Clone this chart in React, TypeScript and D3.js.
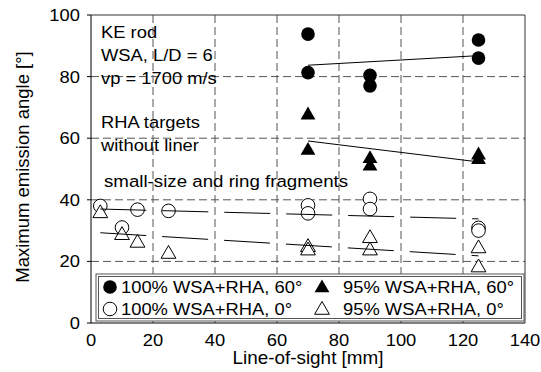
import React from "react";
import * as d3 from "d3";

const xTicks = [0, 20, 40, 60, 80, 100, 120, 140];
const yTicks = [0, 20, 40, 60, 80, 100];

// 100% WSA+RHA, 60° (filled circles)
const fullX60 = [70, 70, 90, 90, 125, 125];
const fullY60 = [93.8, 81.3, 80.4, 77.0, 91.9, 86.0];
// 95% WSA+RHA, 60° (filled triangles)
const partX60 = [70, 70, 90, 90, 125, 125];
const partY60 = [67.5, 56.0, 53.3, 50.9, 54.5, 53.0];
// 100% WSA+RHA, 0° (open circles)
const fullX0 = [3, 10, 15, 25, 70, 70, 90, 90, 125, 125];
const fullY0 = [38.0, 31.0, 36.8, 36.4, 38.2, 35.6, 40.3, 37.0, 30.9, 30.0];
// 95% WSA+RHA, 0° (open triangles)
const partX0 = [3, 10, 15, 25, 70, 70, 90, 90, 125, 125];
const partY0 = [35.6, 28.5, 26.0, 22.4, 24.6, 23.5, 27.5, 23.5, 24.2, 18.0];

// trend lines [x0, y0, x1, y1]
const trendFull60 = [70, 83.7, 125, 86.8];
const trendPart60 = [70, 59.1, 125, 52.3];
const trendFull0 = [3, 37.0, 125, 33.8];
const trendPart0 = [3, 29.3, 125, 21.8];

const annotations = ["KE rod", "WSA, L/D = 6", "vp = 1700 m/s"];
const annotations2 = ["RHA targets", "without liner"];
const annotation3 = "small-size and ring fragments";
const legendLabels = [
  "100% WSA+RHA, 60°",
  "95% WSA+RHA, 60°",
  "100% WSA+RHA, 0°",
  "95% WSA+RHA, 0°",
];

const W = 541;
const H = 372;
const M = { left: 91, right: 525, top: 15, bottom: 323 };
const FONT = "Liberation Sans, Arial, sans-serif";
const FS = 17;
const SX = 1.08;

function T(props: {
  x: number;
  y: number;
  anchor?: string;
  dy?: string;
  sx?: number;
  fs?: number;
  children: React.ReactNode;
}) {
  return (
    <g transform={`translate(${props.x},${props.y}) scale(${props.sx || SX},1)`}>
      <text
        x={0}
        y={0}
        dy={props.dy}
        textAnchor={props.anchor || "start"}
        fontSize={props.fs || FS}
        fill="#000"
      >
        {props.children}
      </text>
    </g>
  );
}

export default function App() {
  const x = d3.scaleLinear().domain([0, 140]).range([M.left, M.right]);
  const y = d3.scaleLinear().domain([0, 100]).range([M.bottom, M.top]);
  const tri = d3.symbol().type(d3.symbolTriangle).size(95)();
  const r = 6.8;
  const gridColor = "#555";

  const trend = (t: number[], dash?: string) => (
    <line
      x1={x(t[0])}
      y1={y(t[1])}
      x2={x(t[2])}
      y2={y(t[3])}
      stroke="#000"
      strokeWidth={1}
      strokeDasharray={dash}
    />
  );

  return (
    <svg
      width={W}
      height={H}
      style={{ position: "absolute", left: 0, top: 0, background: "#fff" }}
      fontFamily={FONT}
    >
      <rect width={W} height={H} fill="#fff" />
      {/* grid */}
      {xTicks.slice(1, -1).map((t) => (
        <line
          key={"gx" + t}
          x1={x(t)}
          x2={x(t)}
          y1={M.top}
          y2={M.bottom}
          stroke={gridColor}
          strokeDasharray="8,4"
        />
      ))}
      {yTicks.slice(1, -1).map((t) => (
        <line
          key={"gy" + t}
          x1={M.left}
          x2={M.right}
          y1={y(t)}
          y2={y(t)}
          stroke={gridColor}
          strokeDasharray="8,4"
        />
      ))}
      {/* frame */}
      <line x1={M.left} x2={M.right} y1={M.top} y2={M.top} stroke="#333" />
      <line x1={M.right} x2={M.right} y1={M.top} y2={M.bottom} stroke="#333" />
      <line x1={M.left} x2={M.left} y1={M.top} y2={M.bottom} stroke="#000" />
      <line x1={M.left} x2={M.right} y1={M.bottom} y2={M.bottom} stroke="#000" />
      {yTicks.map((t) => (
        <g key={"yt" + t}>
          <line x1={M.left - 4} x2={M.left} y1={y(t)} y2={y(t)} stroke="#000" />
          <T x={M.left - 11} y={y(t)} dy="0.35em" anchor="end">
            {t}
          </T>
        </g>
      ))}
      {xTicks.map((t) => (
        <T key={"xt" + t} x={x(t)} y={M.bottom + 23} anchor="middle">
          {t}
        </T>
      ))}
      <T x={(M.left + M.right) / 2} y={364} anchor="middle" fs={17.5}>
        Line-of-sight [mm]
      </T>
      <g transform={`translate(29,${(M.top + M.bottom) / 2 - 2}) rotate(-90)`}>
        <text textAnchor="middle" fontSize={18.5}>
          Maximum emission angle [°]
        </text>
      </g>

      {/* annotations */}
      {annotations.map((a, i) => (
        <T key={a} x={101} y={38 + i * 23}>
          {a}
        </T>
      ))}
      {annotations2.map((a, i) => (
        <T key={a} x={101} y={128 + i * 23}>
          {a}
        </T>
      ))}
      <T x={104} y={187} sx={1.1}>
        {annotation3}
      </T>

      {/* markers */}
      {fullX60.map((v, i) => (
        <circle key={"f60" + i} cx={x(v)} cy={y(fullY60[i])} r={r} fill="#000" />
      ))}
      {partX60.map((v, i) => (
        <path
          key={"p60" + i}
          d={tri || ""}
          transform={`translate(${x(v)},${y(partY60[i])})`}
          fill="#000"
        />
      ))}
      {fullX0.map((v, i) => (
        <circle
          key={"f0" + i}
          cx={x(v)}
          cy={y(fullY0[i])}
          r={r}
          fill="#fff"
          stroke="#000"
        />
      ))}
      {partX0.map((v, i) => (
        <path
          key={"p0" + i}
          d={tri || ""}
          transform={`translate(${x(v)},${y(partY0[i])})`}
          fill="#fff"
          stroke="#000"
        />
      ))}

      {/* trend lines */}
      {trend(trendFull60)}
      {trend(trendPart60)}
      {trend(trendFull0, "46,16")}
      {trend(trendPart0, "46,16")}

      {/* legend */}
      <rect x={96} y={274} width={428} height={47} fill="#fff" stroke="#555" strokeWidth={1} />
      <rect x={98.5} y={276.5} width={423} height={42} fill="none" stroke="#555" strokeWidth={1} />
      <circle cx={110} cy={287} r={r} fill="#000" />
      <T x={121} y={287} dy="0.35em">
        {legendLabels[0]}
      </T>
      <path d={tri || ""} transform="translate(322,288)" fill="#000" />
      <T x={343} y={287} dy="0.35em">
        {legendLabels[1]}
      </T>
      <circle cx={110} cy={309} r={r} fill="#fff" stroke="#000" />
      <T x={121} y={309} dy="0.35em">
        {legendLabels[2]}
      </T>
      <path d={tri || ""} transform="translate(322,310)" fill="#fff" stroke="#000" />
      <T x={343} y={309} dy="0.35em">
        {legendLabels[3]}
      </T>
    </svg>
  );
}
